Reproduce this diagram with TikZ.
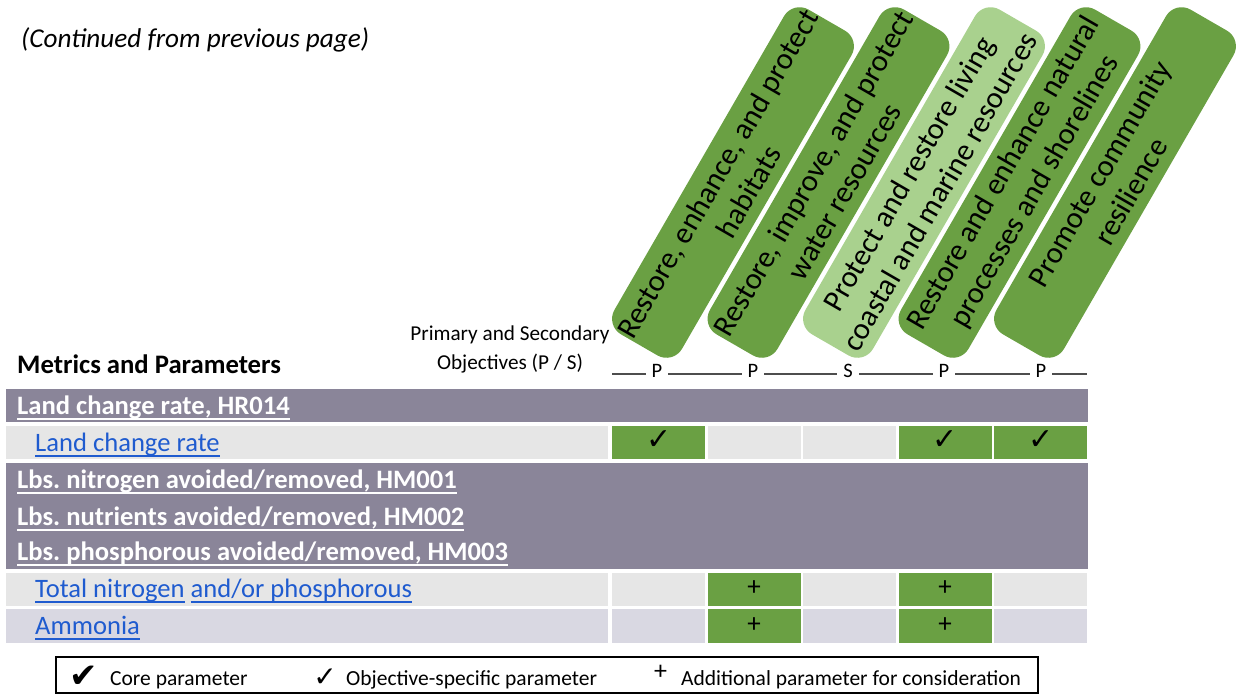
\documentclass[tikz,border=0pt]{standalone}
\usepackage{fontspec}
\setmainfont{Carlito}
\newfontfamily\symfont{DejaVu Sans}
\frenchspacing
\definecolor{hdrpurple}{HTML}{8A8599}
\definecolor{rowgrey}{HTML}{E6E6E6}
\definecolor{rowlav}{HTML}{D9D8E2}
\definecolor{objgreen}{HTML}{6AA043}
\definecolor{objlight}{HTML}{A9D18E}
\definecolor{linkblue}{HTML}{1F5BCF}
\definecolor{psgrey}{HTML}{4D4D4D}
% underline drawn at a fixed depth below the baseline
\newcommand\ulw[1]{\setbox0\hbox{#1}\rlap{\rule[-5.5pt]{\wd0}{2pt}}\box0}
\newcommand\fs[2]{\fontsize{#1}{#2}\selectfont}
\begin{document}
\begin{tikzpicture}[x=1pt,y=-1pt,
  banner/.style={rectangle, rounded corners=18pt, minimum width=375pt,
    minimum height=78pt, rotate=60, align=center, inner sep=0pt,
    font=\fs{30.5}{36}},
  bandrow/.style={rectangle, inner sep=0pt, minimum width=1082pt, anchor=north west},
  labelcell/.style={rectangle, inner sep=0pt, minimum width=602pt, minimum height=33.5pt, anchor=north west},
  cell/.style={rectangle, inner sep=0pt, minimum width=93pt, minimum height=33.5pt, anchor=north west},
  hdrtext/.style={anchor=base west, inner sep=0pt, text=white, font=\bfseries\fs{26.6}{30}},
  linktext/.style={anchor=base west, inner sep=0pt, text=linkblue, font=\fs{26.6}{30}},
  pslabel/.style={fill=white, inner sep=0pt, minimum width=22pt, anchor=base, font=\fs{20.5}{23}},
  ckmark/.style={inner sep=0pt, font=\symfont\fs{30}{32}},
  plusmark/.style={inner sep=0pt, font=\fs{27}{30}},
  legtext/.style={anchor=base west, inner sep=0pt, font=\fs{21.5}{25}}
]
\useasboundingbox (0,0) rectangle (1243,694);

% caption
\node[anchor=base west, inner sep=0pt, font=\itshape\fs{27.2}{31}] (cont) at (21,47) {(Continued from previous page)};

% objective banners
\node[banner, fill=objgreen] (b1) at (733,182.5) {Restore, enhance, and protect\\habitats};
\node[banner, fill=objgreen] (b2) at (828.5,182.5) {Restore, improve, and protect\\water resources};
\node[banner, fill=objlight] (b3) at (924,182.5) {Protect and restore living\\coastal and marine resources};
\node[banner, fill=objgreen] (b4) at (1019.5,182.5) {Restore and enhance natural\\processes and shorelines};
\node[banner, fill=objgreen] (b5) at (1115,182.5) {Promote community\\resilience};

% column headings
\node[anchor=base, inner sep=0pt, font=\fs{21.2}{25}] (ps1) at (510,340) {Primary and Secondary};
\node[anchor=base, inner sep=0pt, font=\fs{21.2}{25}] (ps2) at (510,369) {Objectives (P / S)};
\node[anchor=base west, inner sep=0pt, font=\bfseries\fs{26.7}{30}] (mp) at (17,373) {Metrics and Parameters};

% primary / secondary line
\coordinate (psl) at (612,374);
\coordinate (psr) at (1087,374);
\draw[psgrey, line width=1.3pt] (psl) -- (psr);
\node[pslabel] (o1) at (657,377) {P};
\node[pslabel] (o2) at (753,377) {P};
\node[pslabel] (o3) at (848,377) {S};
\node[pslabel] (o4) at (944,377) {P};
\node[pslabel] (o5) at (1041,377) {P};

% metric group rows
\node[bandrow, fill=hdrpurple, minimum height=33pt] (g1) at (6,389) {};
\node[hdrtext] (g1t) at (17,414) {\ulw{Land change rate, HR014}};

\node[labelcell, fill=rowgrey] (p1) at (6,425.5) {};
\node[linktext] (p1t) at (35,451) {\ulw{Land change rate}};
\node[cell, fill=objgreen] (p1c1) at (612,425.5) {};
\node[cell, fill=rowgrey]  (p1c2) at (707.5,425.5) {};
\node[cell, fill=rowgrey]  (p1c3) at (803,425.5) {};
\node[cell, fill=objgreen] (p1c4) at (898.5,425.5) {};
\node[cell, fill=objgreen] (p1c5) at (994,425.5) {};
\node[ckmark] (k1) at ([yshift=2.5pt]p1c1.center) {✓};
\node[ckmark] (k4) at ([yshift=2.5pt]p1c4.center) {✓};
\node[ckmark] (k5) at ([yshift=2.5pt]p1c5.center) {✓};

\node[bandrow, fill=hdrpurple, minimum height=106pt] (g2) at (6,463) {};
\node[hdrtext] (g2a) at (17,488) {\ulw{Lbs. nitrogen avoided/removed, HM001}};
\node[hdrtext] (g2b) at (17,525) {\ulw{Lbs. nutrients avoided/removed, HM002}};
\node[hdrtext] (g2c) at (17,560) {\ulw{Lbs. phosphorous avoided/removed, HM003}};

\node[labelcell, fill=rowgrey] (p2) at (6,572.5) {};
\node[linktext] (p2t) at (35,597) {\ulw{Total nitrogen}\hspace{6pt}\ulw{and/or phosphorous}};
\node[cell, fill=rowgrey]  (p2c1) at (612,572.5) {};
\node[cell, fill=objgreen] (p2c2) at (707.5,572.5) {};
\node[cell, fill=rowgrey]  (p2c3) at (803,572.5) {};
\node[cell, fill=objgreen] (p2c4) at (898.5,572.5) {};
\node[cell, fill=rowgrey]  (p2c5) at (994,572.5) {};
\node[plusmark] (m22) at ([yshift=1pt]p2c2.center) {+};
\node[plusmark] (m24) at ([yshift=1pt]p2c4.center) {+};

\node[labelcell, fill=rowlav] (p3) at (6,609) {};
\node[linktext] (p3t) at (35,634) {\ulw{Ammonia}};
\node[cell, fill=rowlav]   (p3c1) at (612,609) {};
\node[cell, fill=objgreen] (p3c2) at (707.5,609) {};
\node[cell, fill=rowlav]   (p3c3) at (803,609) {};
\node[cell, fill=objgreen] (p3c4) at (898.5,609) {};
\node[cell, fill=rowlav]   (p3c5) at (994,609) {};
\node[plusmark] (m32) at ([yshift=1pt]p3c2.center) {+};
\node[plusmark] (m34) at ([yshift=1pt]p3c4.center) {+};

% legend
\node[draw, line width=2pt, rectangle, inner sep=0pt, minimum width=982pt, minimum height=36pt] (leg) at (547,674.5) {};
\node[inner sep=0pt, font=\symfont\fs{34}{36}] (lk1) at (84,677) {✔};
\node[legtext] (lt1) at (110,685) {Core parameter};
\node[inner sep=0pt, font=\symfont\fs{28}{30}] (lk2) at (325,678) {✓};
\node[legtext] (lt2) at (346,685) {Objective-specific parameter};
\node[inner sep=0pt, font=\fs{26}{28}] (lk3) at (660.5,672) {+};
\node[legtext] (lt3) at (681,685) {Additional parameter for consideration};
\end{tikzpicture}
\end{document}
